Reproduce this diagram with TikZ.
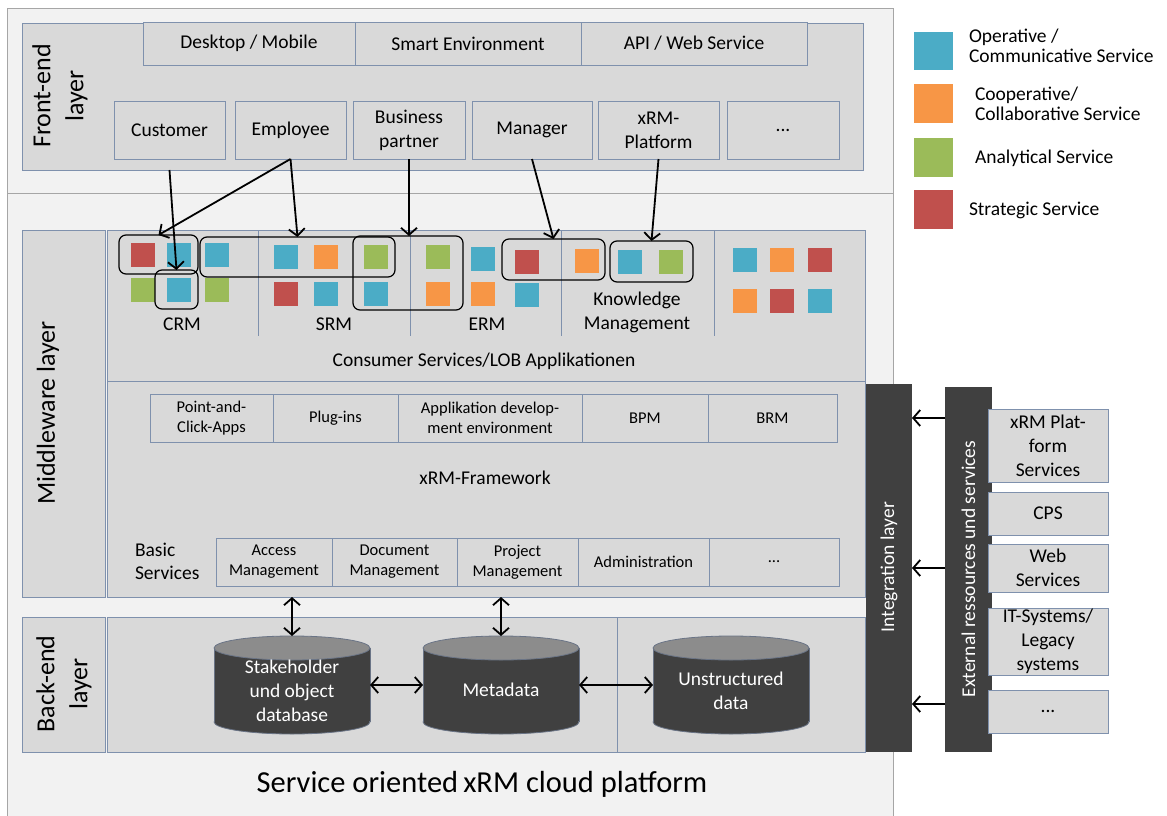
\documentclass[tikz,border=0pt]{standalone}
\usepackage{fontspec}
\setmainfont{Carlito}
\usetikzlibrary{arrows.meta,calc}
\definecolor{bgpanel}{HTML}{F2F2F2}
\definecolor{panelline}{HTML}{A6A6A6}
\definecolor{boxgrey}{HTML}{D9D9D9}
\definecolor{edgeblue}{HTML}{7F91AD}
\definecolor{darkbar}{HTML}{404040}
\definecolor{cylend}{HTML}{8C8C8C}
\definecolor{cylline}{HTML}{6A7486}
\definecolor{sqblue}{HTML}{4BACC6}
\definecolor{sqorange}{HTML}{F79646}
\definecolor{sqgreen}{HTML}{9BBB59}
\definecolor{sqred}{HTML}{C0504D}
\newcommand\fmain{\fontsize{19.5pt}{24pt}\selectfont}
\newcommand\flegend{\fontsize{19.5pt}{20.5pt}\selectfont}
\newcommand\fsmall{\fontsize{16.5pt}{20pt}\selectfont}
\newcommand\flayer{\fontsize{26pt}{33pt}\selectfont}
\newcommand\ftitle{\fontsize{30.5pt}{34pt}\selectfont}
\newcommand\dbcyl[1]{%
  \fill[darkbar] (#1-78,648) rectangle (#1+78,722);
  \filldraw[fill=darkbar, draw=cylline, line width=0.8pt] (#1,722) ellipse [x radius=78, y radius=12];
  \fill[darkbar] (#1-77.6,648) rectangle (#1+77.6,721);
  \draw[cylline, line width=0.8pt] (#1-78,648) -- (#1-78,722) (#1+78,648) -- (#1+78,722);
  \filldraw[fill=cylend, draw=cylline, line width=0.8pt] (#1,648) ellipse [x radius=78, y radius=12];
}
\begin{document}
\begin{tikzpicture}[x=1pt,y=-1pt,
  every node/.style={inner sep=0pt, outer sep=0pt},
  cell/.style={draw=edgeblue, fill=boxgrey, line width=0.9pt, align=center, anchor=north west, font=\fmain},
  scell/.style={cell, font=\fsmall},
  darkbox/.style={fill=darkbar, anchor=north west},
  sq/.style={minimum width=24, minimum height=24, anchor=center},
  grp/.style={draw=black, line width=1.2pt, rounded corners=7pt, anchor=north west},
  arr/.style={line width=1.8pt, -{Straight Barb[length=7pt,width=16pt]}},
  darr/.style={line width=1.8pt, {Straight Barb[length=7pt,width=16pt]}-{Straight Barb[length=7pt,width=16pt]}},
  txt/.style={font=\fmain, align=center},
]
\useasboundingbox (0,0) rectangle (1167,816);
\fill[white] (0,0) rectangle (1167,816);

% outer panel
\node[draw=panelline, fill=bgpanel, line width=0.9pt, minimum width=886, minimum height=808, anchor=north west] (outer) at (7,8) {};
\draw[panelline, line width=0.9pt] (7,193) -- (893,193);

% ---------- front-end layer ----------
\node[cell, minimum width=841, minimum height=147] (fe) at (22,23) {};
\node[rotate=90, font=\flayer, align=center] (felab) at (60,96) {Front-end\\layer};
\node[cell, minimum width=212, minimum height=43] (dm) at (143,22) {Desktop / Mobile};
\node[cell, minimum width=226, minimum height=43] (se) at (355,22) {Smart Environment};
\node[cell, minimum width=226, minimum height=43] (api) at (581,22) {API / Web Service};

\node[cell, minimum width=111, minimum height=58] (cust) at (114,101) {Customer};
\node[cell, minimum width=111, minimum height=58] (emp) at (235,101) {Employee};
\node[cell, minimum width=112, minimum height=58] (bp) at (353,101) {Business\\partner};
\node[cell, minimum width=120, minimum height=58] (mgr) at (472,101) {Manager};
\node[cell, minimum width=121, minimum height=58] (xplat) at (598,101) {xRM-\\Platform};
\node[cell, minimum width=112, minimum height=58] (fdots) at (727,101) {...};

% ---------- middleware layer ----------
\node[cell, minimum width=83, minimum height=367] (mwbox) at (22,230) {};
\node[rotate=90, font=\flayer] (mwlab) at (48,413) {Middleware layer};
\node[cell, minimum width=758, minimum height=151] (cons) at (107,230) {};
\node[cell, minimum width=758, minimum height=216] (fw) at (107,381) {};
\foreach \xx in {258,410,561,714} \draw[edgeblue, line width=0.9pt] (\xx,230) -- (\xx,336);
\node[txt] (crm) at (182,324) {CRM};
\node[txt] (srm) at (334,324) {SRM};
\node[txt] (erm) at (487,324) {ERM};
\node[txt] (km) at (637,312) {Knowledge\\Management};
\node[txt] (conslab) at (484,361) {Consumer Services/LOB Applikationen};

% squares
\node[sq, fill=sqred] (c1) at (142.5,255) {};
\node[sq, fill=sqblue] (c2) at (179,255) {};
\node[sq, fill=sqblue] (c3) at (217,255) {};
\node[sq, fill=sqgreen] (c4) at (142.5,290) {};
\node[sq, fill=sqblue] (c5) at (179,290) {};
\node[sq, fill=sqgreen] (c6) at (217,290) {};
\node[sq, fill=sqblue] (s1) at (286,257) {};
\node[sq, fill=sqorange] (s2) at (325.5,257) {};
\node[sq, fill=sqgreen] (s3) at (375.5,257) {};
\node[sq, fill=sqred] (s4) at (286,294) {};
\node[sq, fill=sqblue] (s5) at (325.5,294) {};
\node[sq, fill=sqblue] (s6) at (375.5,294) {};
\node[sq, fill=sqgreen] (e1) at (437.5,257) {};
\node[sq, fill=sqorange] (e2) at (437.5,294) {};
\node[sq, fill=sqblue] (e3) at (483,258.5) {};
\node[sq, fill=sqorange] (e4) at (483,293.5) {};
\node[sq, fill=sqred] (e5) at (526.5,261.5) {};
\node[sq, fill=sqblue] (e6) at (526.5,295) {};
\node[sq, fill=sqorange] (k1) at (586.5,261) {};
\node[sq, fill=sqblue] (k2) at (630,262) {};
\node[sq, fill=sqgreen] (k3) at (671,262) {};
\node[sq, fill=sqblue] (l1) at (745,260) {};
\node[sq, fill=sqorange] (l2) at (782,260) {};
\node[sq, fill=sqred] (l3) at (820,260) {};
\node[sq, fill=sqorange] (l4) at (745,300.5) {};
\node[sq, fill=sqred] (l5) at (782,300.5) {};
\node[sq, fill=sqblue] (l6) at (820,300.5) {};

% groupings
\node[grp, minimum width=79, minimum height=39] (r1) at (119,235) {};
\node[grp, minimum width=43, minimum height=39] (r2) at (155,270) {};
\node[grp, minimum width=195, minimum height=40] (r3) at (200,237) {};
\node[grp, minimum width=110, minimum height=74] (r4) at (353,236) {};
\node[grp, minimum width=103, minimum height=41] (r5) at (502,239) {};
\node[grp, minimum width=83, minimum height=41] (r6) at (610,241) {};

% framework row
\node[scell, minimum width=123, minimum height=48] (pac) at (150,394) {Point-and-\\Click-Apps};
\node[scell, minimum width=125, minimum height=48] (plug) at (273,394) {Plug-ins};
\node[scell, minimum width=184, minimum height=48] (appdev) at (398,394) {Applikation develop-\\ment environment};
\node[scell, minimum width=126, minimum height=48] (bpm) at (582,394) {BPM};
\node[scell, minimum width=129, minimum height=48] (brm) at (708,394) {BRM};
\node[txt] (fwlab) at (485,478) {xRM-Framework};
\node[font=\fontsize{19.5pt}{23pt}\selectfont, align=left, anchor=west] (basic) at (135,561) {Basic\\Services};
\node[scell, minimum width=116, minimum height=48] (acc) at (216,538) {Access\\Management};
\node[scell, minimum width=125, minimum height=48] (doc) at (332,538) {Document\\Management};
\node[scell, minimum width=121, minimum height=48] (proj) at (457,538) {Project\\Management};
\node[scell, minimum width=131, minimum height=48] (adm) at (578,538) {Administration};
\node[scell, minimum width=130, minimum height=48] (bdots) at (709,538) {...};

% ---------- back-end layer ----------
\node[cell, minimum width=83, minimum height=135] (bebox) at (22,617) {};
\node[rotate=90, font=\flayer, align=center] (belab) at (64,684) {Back-end\\layer};
\node[cell, minimum width=510, minimum height=135] (bemain) at (107,617) {};
\node[cell, minimum width=248, minimum height=135] (beun) at (617,617) {};

\dbcyl{292}
\dbcyl{501}
\dbcyl{731}
\node[minimum width=156, minimum height=98] (sdb) at (292,685) {};
\node[minimum width=156, minimum height=98] (meta) at (501,685) {};
\node[minimum width=156, minimum height=98] (unst) at (731,685) {};
\node[txt, text=white] (sdbl) at (292,691) {Stakeholder\\und object\\database};
\node[txt, text=white] (metal) at (501,690) {Metadata};
\node[txt, text=white] (unstl) at (731,691) {Unstructured\\data};

\draw[darr] (sdb.north |- fw.south) -- (sdb.north);
\draw[darr] (meta.north |- fw.south) -- (meta.north);
\draw[darr] (sdb.east) -- (meta.west);
\draw[darr] (meta.east) -- (unst.west);

\node[font=\ftitle] (title) at (482,784) {Service oriented\,xRM cloud platform};

% ---------- integration / external ----------
\node[darkbox, minimum width=46, minimum height=368] (integ) at (866,384) {};
\node[rotate=90, font=\fmain, text=white] (integl) at (889,567) {Integration layer};
\node[darkbox, minimum width=47, minimum height=365] (ext) at (945,387) {};
\node[rotate=90, font=\fmain, text=white] (extl) at (968.5,569) {External ressources und services};

\node[cell, minimum width=120, minimum height=73] (xps) at (988,409) {xRM Plat-\\form\\Services};
\node[cell, minimum width=120, minimum height=43] (cps) at (988,492) {CPS};
\node[cell, minimum width=120, minimum height=48] (ws) at (988,544) {Web\\Services};
\node[cell, minimum width=120, minimum height=67] (its) at (988,608) {IT-Systems/\\Legacy\\systems};
\node[cell, minimum width=120, minimum height=43] (edots) at (988,690) {...};

\draw[arr] (ext.west |- 0,418) -- (integ.east |- 0,418);
\draw[arr] (ext.west |- 0,568) -- (integ.east |- 0,568);
\draw[arr] (ext.west |- 0,704) -- (integ.east |- 0,704);

% ---------- arrows front-end -> middleware ----------
\draw[arr] (cust.south |- fe.south) -- (r2.north);
\draw[arr] (emp.south) -- (r1.north);
\draw[arr] (emp.south) -- (r3.north);
\draw[arr] (bp.south) -- (bp.south |- r4.north);
\draw[arr] (mgr.south) -- (r5.north);
\draw[arr] (xplat.south) -- (r6.north);

% ---------- legend ----------
\node[minimum width=39, minimum height=38, fill=sqblue, anchor=north west] (lg1) at (914,32) {};
\node[minimum width=39, minimum height=39, fill=sqorange, anchor=north west] (lg2) at (914,84) {};
\node[minimum width=39, minimum height=39, fill=sqgreen, anchor=north west] (lg3) at (914,138) {};
\node[minimum width=39, minimum height=39, fill=sqred, anchor=north west] (lg4) at (914,190) {};
\node[font=\flegend, align=left, anchor=west] (lt1) at (969,46) {Operative /\\Communicative Service};
\node[font=\flegend, align=left, anchor=west] (lt2) at (975,104) {Cooperative/\\Collaborative Service};
\node[font=\flegend, anchor=west] (lt3) at (975,158) {Analytical Service};
\node[font=\flegend, anchor=west] (lt4) at (969,210) {Strategic Service};
\end{tikzpicture}
\end{document}
